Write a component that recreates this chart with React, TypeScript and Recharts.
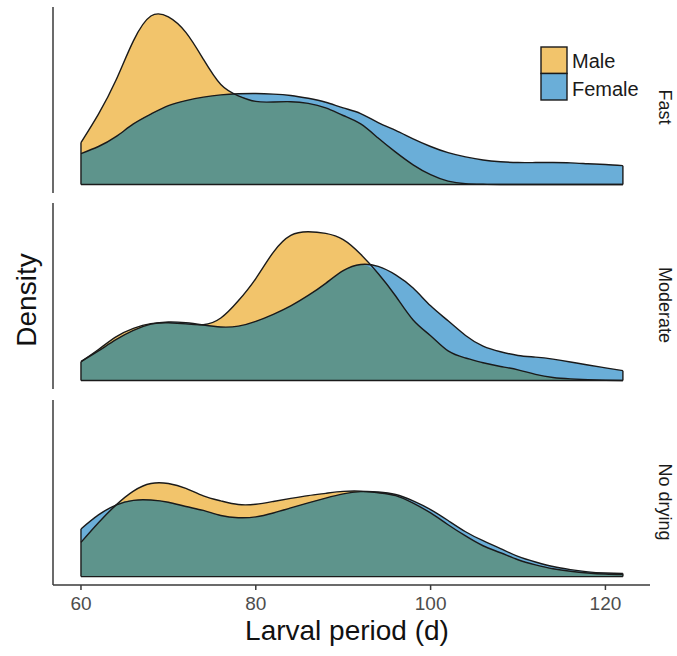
import { ComposedChart, Area, Line, XAxis, YAxis, ReferenceLine } from 'recharts'

// larval period (d), density sampled every 2 days
const days = [60, 62, 64, 66, 68, 70, 72, 74, 76, 78, 80, 82, 84, 86, 88, 90, 92, 94, 96, 98, 100, 102, 104, 106, 108, 110, 112, 114, 116, 118, 120, 122]

const fastMale = [0.0149, 0.025, 0.037, 0.051, 0.0598, 0.0595, 0.054, 0.0445, 0.0355, 0.0315, 0.0295, 0.0293, 0.0294, 0.0288, 0.0272, 0.0245, 0.0215, 0.0165, 0.0115, 0.007, 0.0035, 0.0012, 0.0003, 0.0001, 0, 0, 0, 0, 0, 0, 0, 0]
const fastFemale = [0.011, 0.0135, 0.017, 0.0215, 0.025, 0.028, 0.0298, 0.031, 0.0318, 0.0322, 0.0323, 0.0321, 0.0316, 0.0306, 0.0292, 0.0272, 0.0252, 0.022, 0.0192, 0.0162, 0.0135, 0.0113, 0.0098, 0.0087, 0.0081, 0.0078, 0.0078, 0.0078, 0.0077, 0.0074, 0.0071, 0.0067]

const moderateMale = [0.0067, 0.011, 0.0155, 0.0185, 0.0202, 0.0205, 0.0201, 0.0198, 0.0222, 0.0283, 0.0362, 0.0455, 0.0515, 0.0528, 0.0522, 0.05, 0.0448, 0.038, 0.03, 0.0215, 0.0159, 0.0105, 0.008, 0.0063, 0.005, 0.0038, 0.0022, 0.0011, 0.0006, 0.0003, 0.0001, 0]
const moderateFemale = [0.0067, 0.0105, 0.0145, 0.0178, 0.02, 0.0208, 0.0205, 0.0197, 0.019, 0.0193, 0.021, 0.0235, 0.0265, 0.0302, 0.0345, 0.039, 0.0412, 0.0405, 0.0375, 0.0328, 0.0265, 0.0212, 0.016, 0.0122, 0.0102, 0.0089, 0.0083, 0.0076, 0.0066, 0.0055, 0.0045, 0.0035]

const noDryMale = [0.0122, 0.0192, 0.0255, 0.0305, 0.0332, 0.0332, 0.0315, 0.0288, 0.027, 0.0257, 0.0258, 0.0268, 0.0279, 0.0289, 0.0297, 0.0304, 0.0305, 0.0299, 0.0289, 0.0262, 0.0227, 0.0185, 0.0145, 0.011, 0.0085, 0.006, 0.0042, 0.0028, 0.0019, 0.0013, 0.0009, 0.0007]
const noDryFemale = [0.017, 0.022, 0.0255, 0.0272, 0.0273, 0.0265, 0.025, 0.0236, 0.0218, 0.021, 0.0213, 0.0227, 0.0245, 0.0263, 0.028, 0.0295, 0.0303, 0.0302, 0.0293, 0.027, 0.0239, 0.02, 0.016, 0.0128, 0.01, 0.0072, 0.0052, 0.0036, 0.0025, 0.0017, 0.0013, 0.0011]

const xTicks = [60, 80, 100, 120]
const panelLabels = ['Fast', 'Moderate', 'No drying']

const MALE = '#f2c46b'
const FEMALE = '#6aaed8'
const BOTH = '#5e948c'
const INK = '#1a1a1a'
const AXIS = '#3a3a3a'
const FONT = '"Liberation Sans", Arial, Helvetica, sans-serif'

interface PanelProps {
  male: number[]
  female: number[]
  top: number
  height: number
  showX?: boolean
}

function Panel({ male, female, top, height, showX }: PanelProps) {
  const data = days.map((x, i) => ({ x, m: male[i], f: female[i], o: Math.min(male[i], female[i]) }))
  const first = days[0]
  const last = days[days.length - 1]
  const startY = Math.max(male[0], female[0])
  const endY = Math.max(male[male.length - 1], female[female.length - 1])
  const axisH = showX ? 40 : 0

  return (
    <div style={{ position: 'absolute', left: 0, top }}>
      <ComposedChart width={677} height={height + axisH} data={data} margin={{ top: 0, right: 27, bottom: 0, left: 43 }}>
        <XAxis
          dataKey="x"
          type="number"
          domain={[56.8, 125.1]}
          allowDataOverflow
          ticks={xTicks}
          hide={!showX}
          height={axisH}
          tickSize={5}
          tickMargin={7}
          tick={{ fill: '#4d4d4d', fontSize: 19, fontFamily: FONT }}
          axisLine={{ stroke: AXIS, strokeWidth: 1.5 }}
          tickLine={{ stroke: AXIS, strokeWidth: 1.5 }}
        />
        <YAxis domain={[-0.003, 0.063]} allowDataOverflow width={10} tick={false} tickLine={false} axisLine={{ stroke: AXIS, strokeWidth: 1.5 }} />
        <Area dataKey="m" type="natural" fill={MALE} fillOpacity={1} stroke="none" isAnimationActive={false} />
        <Area dataKey="f" type="natural" fill={FEMALE} fillOpacity={1} stroke="none" isAnimationActive={false} />
        <Area dataKey="o" type="natural" fill={BOTH} fillOpacity={1} stroke="none" isAnimationActive={false} />
        <Line dataKey="m" type="natural" stroke={INK} strokeWidth={1.4} dot={false} activeDot={false} isAnimationActive={false} />
        <Line dataKey="f" type="natural" stroke={INK} strokeWidth={1.4} dot={false} activeDot={false} isAnimationActive={false} />
        <ReferenceLine segment={[{ x: first, y: 0 }, { x: last, y: 0 }]} stroke={INK} strokeWidth={1.4} ifOverflow="visible" />
        <ReferenceLine segment={[{ x: first, y: 0 }, { x: first, y: startY }]} stroke={INK} strokeWidth={1.4} ifOverflow="visible" />
        <ReferenceLine segment={[{ x: last, y: 0 }, { x: last, y: endY }]} stroke={INK} strokeWidth={1.4} ifOverflow="visible" />
      </ComposedChart>
    </div>
  )
}

export default function App() {
  return (
    <div style={{ position: 'absolute', left: 0, top: 0, width: 677, height: 656, background: '#fff', fontFamily: FONT }}>
      <Panel male={fastMale} female={fastFemale} top={7} height={186} />
      <Panel male={moderateMale} female={moderateFemale} top={203} height={186} />
      <Panel male={noDryMale} female={noDryFemale} top={400} height={185} showX />

      <svg width={677} height={656} style={{ position: 'absolute', left: 0, top: 0, pointerEvents: 'none' }}>
        <text x={36} y={300} transform="rotate(-90 36 300)" textAnchor="middle" fontSize={28} fill="#111" fontFamily={FONT}>Density</text>
        <text x={347} y={640} textAnchor="middle" fontSize={28} fill="#111" fontFamily={FONT}>Larval period (d)</text>
        {panelLabels.map((label, i) => {
          const cy = [107, 305, 502][i]
          return (
            <text key={label} x={659} y={cy} transform={`rotate(90 659 ${cy})`} textAnchor="middle" fontSize={18} fill="#1a1a1a" fontFamily={FONT}>{label}</text>
          )
        })}
        <rect x={541} y={47} width={26} height={26.5} fill={MALE} stroke={INK} strokeWidth={1.4} />
        <rect x={541} y={73.5} width={26} height={26.5} fill={FEMALE} stroke={INK} strokeWidth={1.4} />
        <text x={572} y={68} fontSize={20} fill="#1a1a1a" fontFamily={FONT}>Male</text>
        <text x={572} y={95.5} fontSize={20} fill="#1a1a1a" fontFamily={FONT}>Female</text>
      </svg>
    </div>
  )
}
